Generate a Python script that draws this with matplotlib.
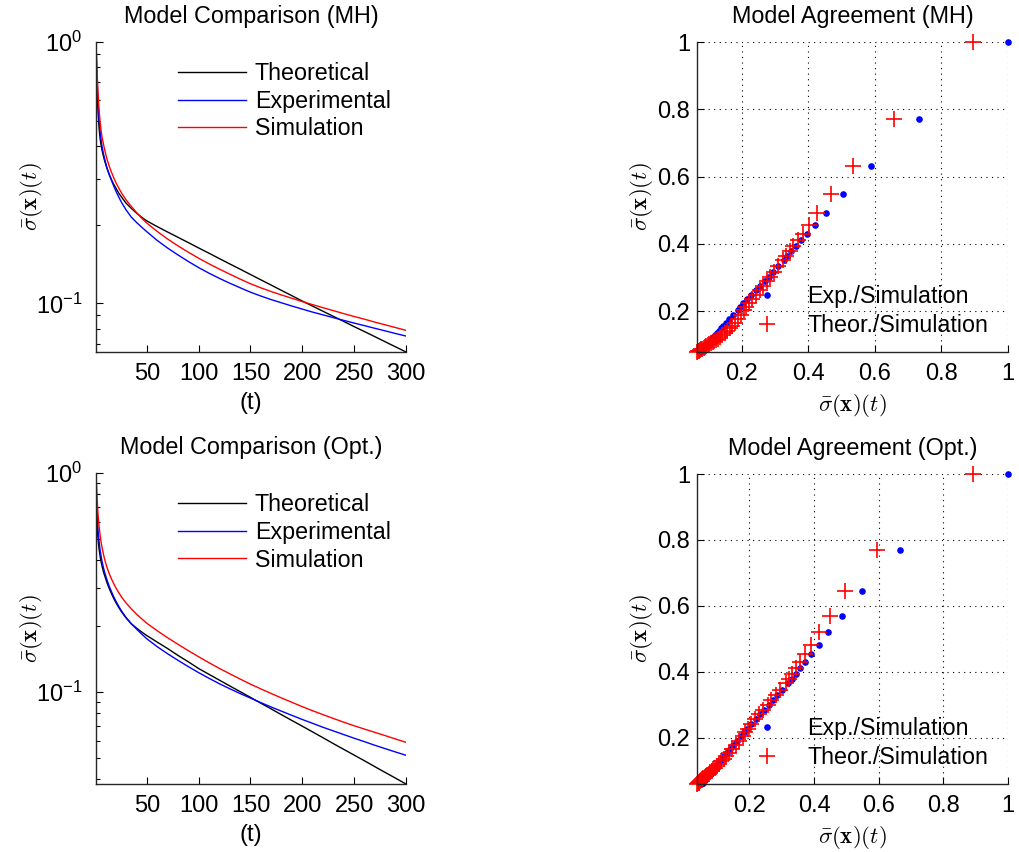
import matplotlib

matplotlib.use("Agg")
import matplotlib.pyplot as plt
from matplotlib.ticker import FixedLocator, FuncFormatter, LogLocator, NullFormatter

T = [1, 2, 3, 4, 5, 6, 7, 8, 9, 10, 11, 12, 14, 16, 18, 20, 23, 26, 30, 35, 40, 45,
     50, 60, 70, 80, 90, 100, 110, 120, 130, 140, 150, 160, 170, 180, 190, 200,
     210, 220, 230, 240, 250, 260, 270, 280, 290, 300]

# MH panel
MH_THEOR = [0.894, 0.658, 0.535, 0.467, 0.426, 0.401, 0.383, 0.368, 0.355, 0.344, 0.334, 0.325,
            0.310, 0.297, 0.286, 0.277, 0.264, 0.254, 0.242, 0.2311, 0.2217, 0.2137,
            0.2069, 0.1967, 0.1876, 0.1791, 0.1709, 0.1630, 0.1556, 0.1484, 0.1416, 0.1352,
            0.1290, 0.1231, 0.1175, 0.1121, 0.1070, 0.1021, 0.0976, 0.0933, 0.0892, 0.0853,
            0.0815, 0.0780, 0.0746, 0.0713, 0.0682, 0.0652]
MH_EXP = [1.000, 0.734, 0.587, 0.503, 0.453, 0.420, 0.395, 0.377, 0.362, 0.349, 0.337, 0.327,
          0.309, 0.295, 0.282, 0.270, 0.255, 0.242, 0.228, 0.214, 0.2043, 0.1958,
          0.1881, 0.1742, 0.1629, 0.1533, 0.1447, 0.1371, 0.1305, 0.1247, 0.1195, 0.1148,
          0.1104, 0.1067, 0.1034, 0.1005, 0.0977, 0.0951, 0.0926, 0.0904, 0.0882, 0.0861,
          0.0841, 0.0822, 0.0803, 0.0785, 0.0767, 0.0750]
MH_SIM = [1.000, 0.771, 0.633, 0.549, 0.493, 0.456, 0.429, 0.411, 0.393, 0.378, 0.364, 0.352,
          0.333, 0.317, 0.303, 0.291, 0.276, 0.263, 0.249, 0.235, 0.223, 0.212,
          0.2030, 0.1886, 0.1764, 0.1661, 0.1570, 0.1489, 0.1417, 0.1353, 0.1294, 0.1239,
          0.1189, 0.1147, 0.1110, 0.1077, 0.1046, 0.1016, 0.0989, 0.0963, 0.0938, 0.0914,
          0.0891, 0.0870, 0.0848, 0.0828, 0.0808, 0.0789]

# Optimised panel
OPT_THEOR = [0.893, 0.595, 0.497, 0.449, 0.416, 0.391, 0.373, 0.357, 0.344, 0.333, 0.322, 0.312,
             0.295, 0.281, 0.268, 0.257, 0.243, 0.231, 0.218, 0.205, 0.196, 0.188,
             0.181, 0.169, 0.158, 0.147, 0.1374, 0.128, 0.1204, 0.1133, 0.1066, 0.1004,
             0.0945, 0.0889, 0.0837, 0.0787, 0.0741, 0.0698, 0.0657, 0.0618, 0.0581, 0.0547,
             0.0515, 0.0485, 0.0456, 0.0429, 0.0404, 0.0380]
OPT_EXP = [1.000, 0.667, 0.547, 0.485, 0.444, 0.415, 0.391, 0.373, 0.357, 0.344, 0.332, 0.321,
           0.302, 0.287, 0.273, 0.261, 0.246, 0.233, 0.219, 0.205, 0.194, 0.184,
           0.1750, 0.1611, 0.1496, 0.1396, 0.1306, 0.1226, 0.1155, 0.1091, 0.1035, 0.0984,
           0.0938, 0.0894, 0.0854, 0.0817, 0.0782, 0.0749, 0.0719, 0.0690, 0.0664, 0.0639,
           0.0615, 0.0593, 0.0571, 0.0551, 0.0532, 0.0514]
OPT_SIM = [1.000, 0.768, 0.645, 0.570, 0.520, 0.481, 0.453, 0.430, 0.410, 0.393, 0.379, 0.366,
           0.345, 0.328, 0.313, 0.300, 0.284, 0.270, 0.255, 0.240, 0.227, 0.216,
           0.2061, 0.1905, 0.1770, 0.1652, 0.1545, 0.1449, 0.1361, 0.1282, 0.1211, 0.1146,
           0.1086, 0.1033, 0.0984, 0.0939, 0.0897, 0.0857, 0.0821, 0.0788, 0.0757, 0.0728,
           0.0701, 0.0677, 0.0654, 0.0632, 0.0610, 0.0589]

LINE_LABELS = ["Theoretical", "Experimental", "Simulation"]
SCATTER_LABELS = ["Exp./Simulation", "Theor./Simulation"]
X_TICKS = [50, 100, 150, 200, 250, 300]
AGREE_TICKS = [0.2, 0.4, 0.6, 0.8, 1.0]
SIGMA = r"$\bar{\sigma}(\mathbf{x})(t)$"
TICK_SIZE = 17
TITLE_SIZE = 16.8
LEGEND_SIZE = 16.75
MATH_SIZE = 16.5

plt.rcParams["font.family"] = ["Liberation Sans", "DejaVu Sans"]
plt.rcParams["mathtext.fontset"] = "cm"
plt.rcParams["font.size"] = TICK_SIZE


def style_axis(ax, ypad):
    for side in ("top", "right"):
        ax.spines[side].set_visible(False)
    for side in ("left", "bottom"):
        ax.spines[side].set_color("#262626")
        ax.spines[side].set_linewidth(1.0)
    ax.tick_params(which="major", direction="in", length=5, width=0.8, labelsize=TICK_SIZE)
    ax.tick_params(which="minor", direction="in", length=3, width=0.8)
    ax.tick_params(axis="x", pad=8)
    ax.tick_params(axis="y", pad=ypad)


def comparison_plot(ax, theor, exp, sim, title):
    ax.plot(T, theor, color="black", lw=1.0, label=LINE_LABELS[0])
    ax.plot(T, exp, color="blue", lw=1.0, label=LINE_LABELS[1])
    ax.plot(T, sim, color="red", lw=1.0, label=LINE_LABELS[2])
    ax.set_yscale("log")
    ax.set_xlim(T[0], T[-1])
    ax.set_ylim(min(theor + exp + sim), 1.0)
    ax.xaxis.set_major_locator(FixedLocator(X_TICKS))
    ax.yaxis.set_major_locator(LogLocator(base=10))
    ax.yaxis.set_minor_locator(LogLocator(base=10, subs=range(2, 10)))
    ax.yaxis.set_minor_formatter(NullFormatter())
    style_axis(ax, ypad=10)
    ax.set_title(title, fontsize=TITLE_SIZE, pad=14)
    ax.set_xlabel("(t)", fontsize=TICK_SIZE)
    ax.set_ylabel(SIGMA, fontsize=MATH_SIZE)
    ax.xaxis.set_label_coords(0.5, -0.13)
    ax.yaxis.set_label_coords(-0.165, 0.5)
    ax.legend(loc="upper left", bbox_to_anchor=(0.265, 0.935), frameon=False,
              borderpad=0, borderaxespad=0, handlelength=2.9, handletextpad=0.4,
              labelspacing=0.2, fontsize=LEGEND_SIZE)


def agreement_plot(ax, theor, exp, sim, title):
    # markers are not clipped at the axes edge, as in the original
    ax.plot(exp, sim, linestyle="none", marker=".", color="blue", markersize=7.5,
            label=SCATTER_LABELS[0], clip_on=False)
    ax.plot(theor, sim, linestyle="none", marker="+", color="red", markersize=12,
            markeredgewidth=1.2, label=SCATTER_LABELS[1], clip_on=False)
    ax.set_xlim(min(theor + exp), 1.0)
    ax.set_ylim(min(sim), 1.0)
    ax.xaxis.set_major_locator(FixedLocator(AGREE_TICKS))
    ax.yaxis.set_major_locator(FixedLocator(AGREE_TICKS))
    fmt = FuncFormatter(lambda v, pos: f"{v:g}")
    ax.xaxis.set_major_formatter(fmt)
    ax.yaxis.set_major_formatter(fmt)
    ax.grid(True, linestyle=(0, (1, 4)), color="black", linewidth=0.8)
    ax.set_axisbelow(True)
    style_axis(ax, ypad=5)
    ax.set_title(title, fontsize=TITLE_SIZE, pad=14)
    ax.set_xlabel(SIGMA, fontsize=MATH_SIZE)
    ax.set_ylabel(SIGMA, fontsize=MATH_SIZE)
    ax.xaxis.set_label_coords(0.5, -0.13)
    ax.yaxis.set_label_coords(-0.135, 0.5)
    ax.legend(loc="lower right", bbox_to_anchor=(0.984, 0.0), frameon=False, borderpad=0,
              borderaxespad=0.65, handlelength=2.0, handletextpad=0.73, labelspacing=0.25,
              fontsize=LEGEND_SIZE)


fig = plt.figure(figsize=(10.19, 8.52), dpi=100)
ax_tl = fig.add_axes([0.0942, 0.5869, 0.3042, 0.3638])
ax_tr = fig.add_axes([0.6840, 0.5869, 0.3052, 0.3638])
ax_bl = fig.add_axes([0.0942, 0.0798, 0.3042, 0.3650])
ax_br = fig.add_axes([0.6840, 0.0798, 0.3052, 0.3638])

comparison_plot(ax_tl, MH_THEOR, MH_EXP, MH_SIM, "Model Comparison (MH)")
agreement_plot(ax_tr, MH_THEOR, MH_EXP, MH_SIM, "Model Agreement (MH)")
comparison_plot(ax_bl, OPT_THEOR, OPT_EXP, OPT_SIM, "Model Comparison (Opt.)")
agreement_plot(ax_br, OPT_THEOR, OPT_EXP, OPT_SIM, "Model Agreement (Opt.)")

fig.savefig("out.png", dpi=100)
plt.close(fig)
